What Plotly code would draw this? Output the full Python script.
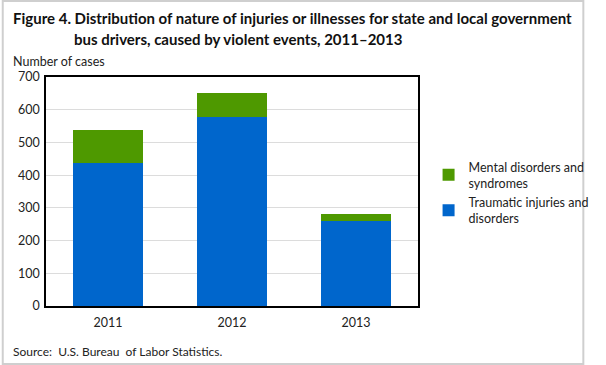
import plotly.graph_objects as go

years = ["2011", "2012", "2013"]
traumatic = [438, 578, 260]
mental = [100, 72, 20]
y_ticks = [0, 100, 200, 300, 400, 500, 600, 700]

W, H = 606, 365
L, R, T, B = 46, 173, 77, 59
pw, ph = W - L - R, H - T - B

FONT = "Lato"

fig = go.Figure()
fig.add_trace(go.Bar(x=years, y=traumatic, name="Traumatic injuries and<br>disorders",
                     marker=dict(color="#0066CC", line=dict(width=0))))
fig.add_trace(go.Bar(x=years, y=mental, name="Mental disorders and<br>syndromes",
                     marker=dict(color="#4E9900", line=dict(width=0))))

def px_x(p):
    return (p - L) / pw

def px_y(p):
    return 1 - (p - T) / ph

fig.update_layout(
    width=W, height=H,
    barmode="stack", bargap=0.43,
    margin=dict(l=L, r=R, t=T, b=B),
    plot_bgcolor="white", paper_bgcolor="white",
    font=dict(family=FONT, size=12, color="#222"),
    showlegend=True,
    legend=dict(x=px_x(444), y=px_y(152), xanchor="left", yanchor="top",
                traceorder="reversed", font=dict(size=12.5, color="#222"),
                itemwidth=30, tracegroupgap=2, bgcolor="rgba(0,0,0,0)"),
    xaxis=dict(showline=True, linecolor="black", linewidth=1.5, mirror=True,
               ticks="", tickfont=dict(size=12.5), showgrid=False, ticklabelstandoff=4),
    yaxis=dict(range=[0, 700], tickvals=y_ticks, showline=True, linecolor="black",
               linewidth=1.5, mirror=True, gridcolor="#DCDCDC", gridwidth=1,
               ticks="", tickfont=dict(size=12.5), zeroline=False, ticklabelstandoff=2),
)

ann = [
    dict(text="<b>Figure 4. Distribution of nature of injuries or illnesses for state and local government</b>",
         x=px_x(10), y=px_y(18), xanchor="left", yanchor="middle", font=dict(size=15, color="#111")),
    dict(text="<b>bus drivers, caused by violent events, 2011–2013</b>",
         x=px_x(73), y=px_y(39), xanchor="left", yanchor="middle", font=dict(size=15, color="#111")),
    dict(text="Number of cases", x=px_x(10), y=px_y(61), xanchor="left", yanchor="middle",
         font=dict(size=12.5)),
    dict(text="Source:  U.S. Bureau  of Labor Statistics.", x=px_x(10), y=px_y(351),
         xanchor="left", yanchor="middle", font=dict(size=12)),
]
for a in ann:
    a.update(xref="paper", yref="paper", showarrow=False)
    fig.add_annotation(**a)

fig.add_shape(type="rect", xref="paper", yref="paper",
              x0=px_x(1), x1=px_x(W - 1), y0=px_y(H - 1), y1=px_y(1),
              line=dict(color="#CFCFCF", width=2), layer="above")

fig.write_html("out.html", config={"displayModeBar": False},
               post_script="document.body.style.margin='0';document.body.style.overflow='hidden';")
